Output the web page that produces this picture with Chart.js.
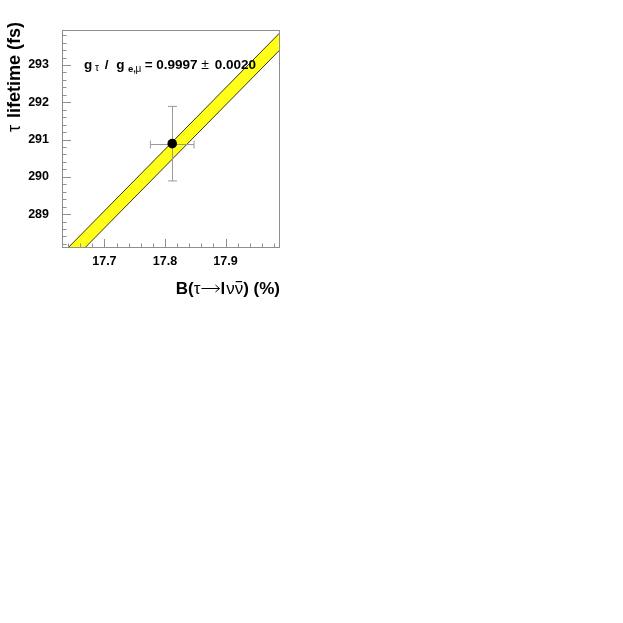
<!DOCTYPE html>
<html>
<head>
<meta charset="utf-8">
<script src="https://cdn.jsdelivr.net/npm/chart.js@4.4.1/dist/chart.umd.min.js"></script>
<style>
	html, body { margin: 0; padding: 0; background: #fff; }
</style>
</head>
<body>
<canvas id="tauchart" width="623" height="623"></canvas>
<script>
	// values
	var bandX = [17.63, 17.99];
	var bandUpper = [287.93, 293.87];
	var bandLower = [287.47, 293.41];
	var pointX = [17.812];
	var pointY = [290.89];
	var errX = [0.036];
	var errY = [1.0];
	var xTicks = [17.7, 17.8, 17.9];
	var yTicks = [289, 290, 291, 292, 293];
	var xRange = [17.63, 17.99];
	var yRange = [288.09, 293.94];

	var fam = '"Liberation Sans", Arial, Helvetica, sans-serif';
	var tickGrey = '#8f8f8f';

	function pts(xs, ys){
		return xs.map(function(x, i){ return {x: x, y: ys[i]}; });
	}

	function drawErrors(chart){
		var ctx = chart.ctx, xs = chart.scales.x, ys = chart.scales.y;
		ctx.save();
		ctx.strokeStyle = '#9a9a9a';
		ctx.lineWidth = 1;
		for (var i = 0; i < pointX.length; i++){
			var px = xs.getPixelForValue(pointX[i]), py = ys.getPixelForValue(pointY[i]);
			var x1 = xs.getPixelForValue(pointX[i] - errX[i]), x2 = xs.getPixelForValue(pointX[i] + errX[i]);
			var y1 = ys.getPixelForValue(pointY[i] + errY[i]), y2 = ys.getPixelForValue(pointY[i] - errY[i]);
			px = Math.round(px) + 0.5; py = Math.round(py) + 0.5;
			ctx.beginPath();
			ctx.moveTo(x1, py); ctx.lineTo(x2, py);
			ctx.moveTo(px, y1); ctx.lineTo(px, y2);
			// end caps
			ctx.moveTo(x1, py - 4); ctx.lineTo(x1, py + 4);
			ctx.moveTo(x2, py - 4); ctx.lineTo(x2, py + 4);
			ctx.moveTo(px - 4.5, y1); ctx.lineTo(px + 4.5, y1);
			ctx.moveTo(px - 4.5, y2); ctx.lineTo(px + 4.5, y2);
			ctx.stroke();
		}
		ctx.restore();
	}

	function drawFrame(chart){
		var ctx = chart.ctx, a = chart.chartArea, xs = chart.scales.x, ys = chart.scales.y;
		ctx.save();
		ctx.strokeStyle = tickGrey;
		ctx.lineWidth = 1;
		ctx.strokeRect(a.left + 0.5, a.top + 0.5, a.right - a.left - 1, a.bottom - a.top - 1);
		ctx.beginPath();
		// x ticks, 5 subdivisions per 0.1
		for (var k = Math.ceil(xRange[0] / 0.02); k <= Math.floor(xRange[1] / 0.02); k++){
			var x = Math.round(xs.getPixelForValue(k * 0.02)) + 0.5;
			var len = (k % 5 === 0) ? 9 : 4.5;
			ctx.moveTo(x, a.bottom); ctx.lineTo(x, a.bottom - len);
		}
		// y ticks, 5 subdivisions per unit
		for (var j = Math.ceil(yRange[0] / 0.2); j <= Math.floor(yRange[1] / 0.2); j++){
			var y = Math.round(ys.getPixelForValue(j * 0.2)) + 0.5;
			var ylen = (j % 5 === 0) ? 9 : 4.5;
			ctx.moveTo(a.left, y); ctx.lineTo(a.left + ylen, y);
		}
		ctx.stroke();
		ctx.restore();
	}

	// text made of runs: {t, f, dx, bar, arrow}
	function runWidth(ctx, r){
		if (r.arrow) return r.arrow;
		ctx.font = r.f;
		return ctx.measureText(r.t).width + (r.dx || 0);
	}

	function drawRuns(ctx, runs, x, y, align){
		var total = 0;
		runs.forEach(function(r){ total += runWidth(ctx, r); });
		var cx = (align === 'right') ? x - total : x;
		runs.forEach(function(r){
			var w = runWidth(ctx, r);
			if (r.arrow){
				var ay = y - 5.5;
				ctx.save();
				ctx.strokeStyle = '#000';
				ctx.lineWidth = 1;
				ctx.beginPath();
				ctx.moveTo(cx + 1, ay); ctx.lineTo(cx + w - 1, ay);
				ctx.moveTo(cx + w - 5, ay - 3.5); ctx.lineTo(cx + w - 1, ay); ctx.lineTo(cx + w - 5, ay + 3.5);
				ctx.stroke();
				ctx.restore();
			} else {
				ctx.font = r.f;
				ctx.fillText(r.t, cx, y + (r.dy || 0));
				if (r.bar){
					ctx.fillRect(cx + 1, y - 13, w - 2, 1.2);
				}
			}
			cx += w;
		});
	}

	function drawTexts(chart){
		var ctx = chart.ctx, a = chart.chartArea;
		ctx.save();
		ctx.fillStyle = '#000';
		ctx.textBaseline = 'alphabetic';
		ctx.textAlign = 'left';

		// coupling ratio label
		var main = 'bold 13.5px ' + fam, sub = 'bold 9.5px ' + fam, subg = '10px ' + fam;
		var base = a.top + 39;
		var parts = [
			['g', 22, main, 0], ['\u03c4', 33, subg, 1.5], ['/', 42.7, main, 0],
			['g', 54.3, main, 0], ['e,', 66, sub, 2.5], ['\u03bc', 73.5, subg, 2.5], ['=', 82.7, main, 0],
			['0.9997', 94.3, main, 0], ['\u00b1', 139.3, '14px ' + fam, 0], ['0.0020', 152.7, main, 0]
		];
		parts.forEach(function(p){
			ctx.font = p[2];
			ctx.fillText(p[0], a.left + p[1], base + p[3]);
		});

		// x axis title
		var tb = 'bold 17px ' + fam, tn = '17px ' + fam;
		drawRuns(ctx, [
			{t: 'B(', f: tb},
			{t: '\u03c4', f: tn},
			{arrow: 20},
			{t: 'l', f: tb, dx: 1},
			{t: '\u03bd', f: tn},
			{t: '\u03bd', f: tn, bar: true},
			{t: ') (%)', f: tb}
		], a.right, a.bottom + 46, 'right');

		// y axis title
		ctx.translate(20, a.top - 8);
		ctx.rotate(-Math.PI / 2);
		drawRuns(ctx, [
			{t: '\u03c4', f: '18px ' + fam, dx: 2},
			{t: ' lifetime (fs)', f: 'bold 18px ' + fam}
		], 0, 0, 'right');
		ctx.restore();
	}

	var decor = {
		id: 'decor',
		beforeDatasetDraw: function(chart, args){
			if (args.index === 0) drawErrors(chart);
		},
		afterDraw: function(chart){
			drawFrame(chart);
			drawTexts(chart);
		}
	};

	var ctx = document.getElementById('tauchart').getContext('2d');
	var myChart = new Chart(ctx, {
		type: 'line',
		data: {
			datasets: [{
					label: 'measurement',
					data: pts(pointX, pointY),
					showLine: false,
					pointRadius: 4.8,
					pointBackgroundColor: '#000',
					pointBorderColor: '#000',
					pointBorderWidth: 0
				}, {
					label: 'upper',
					data: pts(bandX, bandUpper),
					borderColor: '#3a3a10',
					borderWidth: 1,
					pointRadius: 0,
					fill: false
				}, {
					label: 'lower',
					data: pts(bandX, bandLower),
					borderColor: '#3a3a10',
					borderWidth: 1,
					pointRadius: 0,
					backgroundColor: '#ffff1a',
					fill: '-1'
				}]
		},
		options: {
			responsive: false,
			animation: false,
			events: [],
			layout: { padding: { left: 0, top: 30, right: 343, bottom: 335 } },
			plugins: {
				legend: { display: false },
				title: { display: false },
				tooltip: { enabled: false }
			},
			scales: {
				x: {
					type: 'linear',
					min: xRange[0],
					max: xRange[1],
					afterBuildTicks: function(s){ s.ticks = xTicks.map(function(v){ return {value: v}; }); },
					afterFit: function(s){ s.height = 40; },
					grid: { display: false, drawTicks: false },
					border: { display: false },
					ticks: {
						padding: 6,
						color: '#000',
						font: { family: fam, size: 12.5, weight: 'bold' },
						callback: function(v){ return v.toFixed(1); }
					}
				},
				y: {
					type: 'linear',
					min: yRange[0],
					max: yRange[1],
					afterBuildTicks: function(s){ s.ticks = yTicks.map(function(v){ return {value: v}; }); },
					afterFit: function(s){ s.width = 62; },
					grid: { display: false, drawTicks: false },
					border: { display: false },
					ticks: {
						padding: 13,
						color: '#000',
						font: { family: fam, size: 12.5, weight: 'bold' },
						callback: function(v){ return String(v); }
					}
				}
			}
		},
		plugins: [decor]
	});
</script>
</body>
</html>
